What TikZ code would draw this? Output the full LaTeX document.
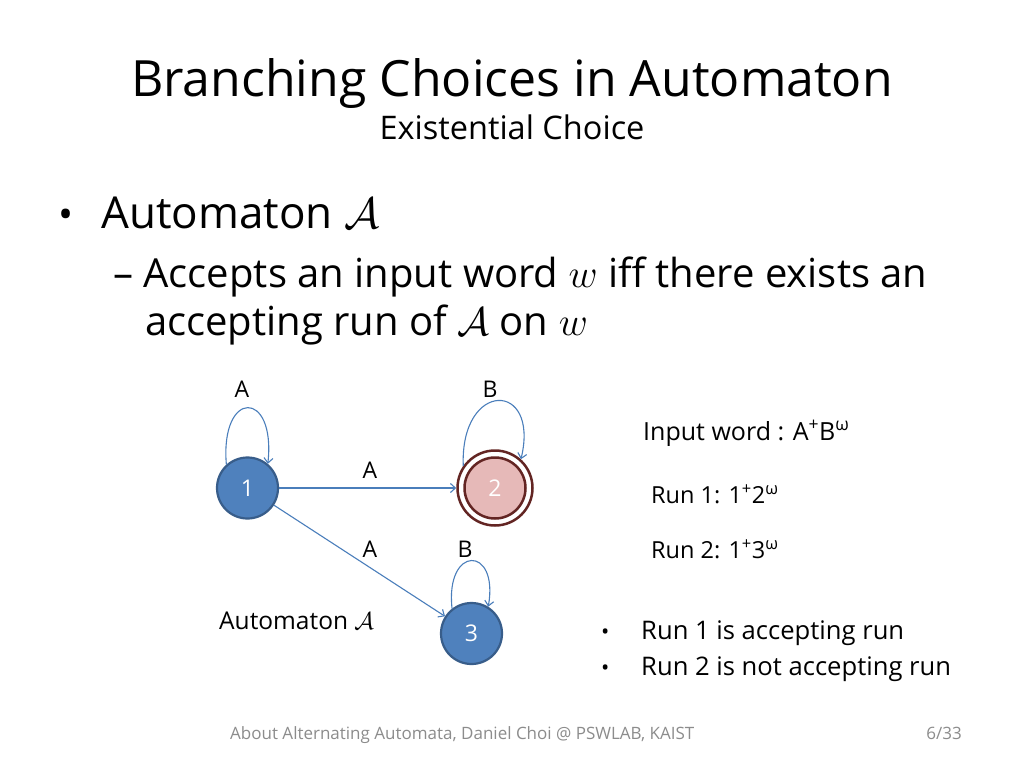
\RequirePackage{fix-cm}
\documentclass[tikz,border=0pt]{standalone}
\usepackage{fontspec}
\setmainfont{Open Sans}
\usetikzlibrary{arrows.meta}
\definecolor{nodefill}{HTML}{4F81BD}
\definecolor{nodedraw}{HTML}{385D8A}
\definecolor{accfill}{HTML}{E6B9B8}
\definecolor{accdraw}{HTML}{632523}
\definecolor{edgecol}{HTML}{4A7EBB}
\definecolor{footgray}{HTML}{8C8C8C}
\newcommand{\fs}[1]{\fontsize{#1}{#1}\selectfont}
\begin{document}
\begin{tikzpicture}[x=1pt,y=-1pt,
  txt/.style={inner sep=0pt, anchor=base west},
  ctxt/.style={inner sep=0pt, anchor=base},
  state/.style={circle, minimum size=61pt, inner sep=0pt, fill=nodefill, draw=nodedraw, line width=2.2pt, text=white, font=\fs{23}},
  accouter/.style={circle, minimum size=75pt, inner sep=0pt, fill=white, draw=accdraw, line width=2.5pt},
  accinner/.style={circle, minimum size=61pt, inner sep=0pt, fill=accfill, draw=accdraw, line width=2.5pt, text=white, font=\fs{23}},
  edge/.style={draw=edgecol, line width=1.1pt, -{Straight Barb[length=5pt,width=9pt]}},
  lbl/.style={inner sep=0pt, font=\fs{23}}
]
\useasboundingbox[fill=white] (0,0) rectangle (1024,768);

% title
\node[ctxt, font=\fs{50}] (title) at (512,96) {Branching Choices in Automaton};
\node[ctxt, font=\fs{32.5}] (sub) at (512,139) {Existential Choice};

% bullets
\node[txt, font=\fs{40}] (b1) at (58,228) {•};
\node[txt, font=\fs{44}] (t1) at (101,228) {Automaton $\mathcal{A}$};
\node[txt, font=\fs{40}] (t2) at (113,287) {– Accepts an input word $w$ iff there exists an};
\node[txt, font=\fs{40}] (t3) at (145,335) {accepting run of $\mathcal{A}$ on $w$};

% automaton
\node[state] (n1) at (247.5,488) {1};
\node[accouter] (n2) at (495,488) {};
\node[accinner] (n2in) at (495,488) {2};
\node[state] (n3) at (471.5,633.5) {3};

\draw[edge] (n1) -- (n2);
\draw[edge] (n1) -- (n3);
\draw[edge] (n1.132) .. controls (220,389) and (276,389) .. (n1.50);
\draw[edge] (n2.145) .. controls (460,380) and (540,380) .. (n2.48);
\draw[edge] (n3.128) .. controls (445,545) and (499,545) .. (n3.58);

\node[lbl] (la1) at (242,389) {A};
\node[lbl] (lb2) at (490,389) {B};
\node[lbl] (la12) at (370,470) {A};
\node[lbl] (la13) at (370,549) {A};
\node[lbl] (lb3) at (465,549) {B};

\node[txt, font=\fs{24.5}] (cap) at (219,629) {Automaton $\mathcal{A}$};

% runs
\node[txt, font=\fs{25}] (iw) at (643,440) {Input word : A\textsuperscript{+}B\textsuperscript{ω}};
\node[txt, font=\fs{23.5}] (r1) at (651,503) {Run 1: 1\textsuperscript{+}2\textsuperscript{ω}};
\node[txt, font=\fs{23.5}] (r2) at (651,558) {Run 2: 1\textsuperscript{+}3\textsuperscript{ω}};

\node[txt, font=\fs{22}] (bb1) at (601,639) {•};
\node[txt, font=\fs{25.6}] (s1) at (641,639) {Run 1 is accepting run};
\node[txt, font=\fs{22}] (bb2) at (601,675) {•};
\node[txt, font=\fs{25.6}] (s2) at (641,675) {Run 2 is not accepting run};

% footer
\node[txt, font=\fs{17}, text=footgray] (foot) at (230,739) {About Alternating Automata, Daniel Choi @ PSWLAB, KAIST};
\node[inner sep=0pt, anchor=base east, font=\fs{17}, text=footgray] (page) at (962,739) {6/33};
\end{tikzpicture}
\end{document}
